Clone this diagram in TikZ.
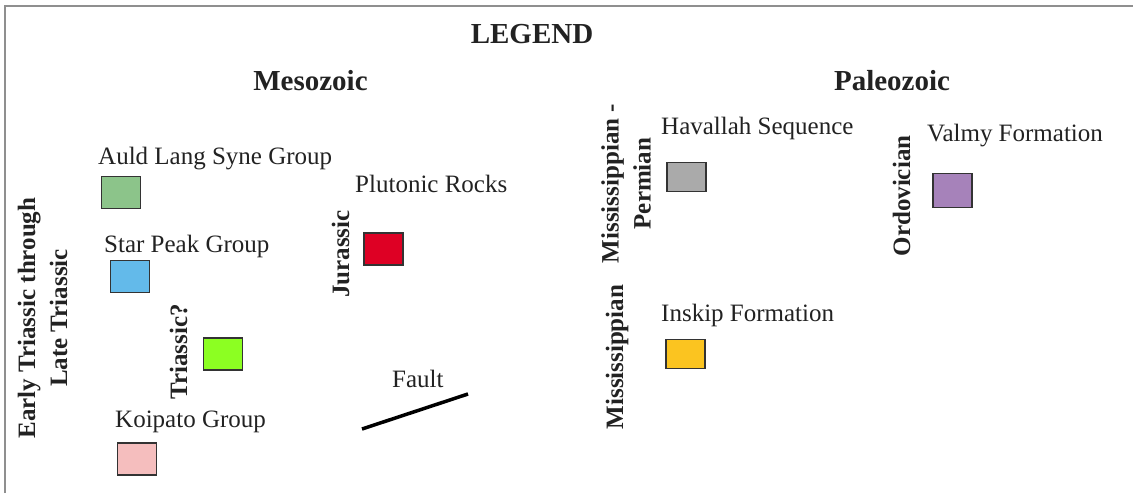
\documentclass[tikz,border=0pt]{standalone}
\usepackage{fontspec}
\setmainfont{Liberation Serif}
\definecolor{txt}{HTML}{222222}
\definecolor{frame}{HTML}{8F8F8F}
\definecolor{cGreen}{HTML}{8CC48A}
\definecolor{cBlue}{HTML}{63BAEA}
\definecolor{cLime}{HTML}{8CFF22}
\definecolor{cPink}{HTML}{F5BEBE}
\definecolor{cRed}{HTML}{DE0024}
\definecolor{cGray}{HTML}{AAAAAA}
\definecolor{cPurple}{HTML}{A682BA}
\definecolor{cYellow}{HTML}{FBC420}
\tikzset{
  unitbox/.style={draw=black!80, line width=1.4pt, minimum width=39pt, minimum height=32pt, inner sep=0pt},
  lbl/.style={font=\fontsize{25}{30}\selectfont, text=txt, anchor=base west, inner sep=0pt},
  head/.style={font=\fontsize{29}{34}\selectfont\bfseries, text=txt, anchor=base, inner sep=0pt},
  agelbl/.style={font=\fontsize{25}{32}\selectfont\bfseries, text=txt, rotate=90, inner sep=0pt, align=center},
}
\begin{document}
\begin{tikzpicture}[x=1pt,y=-1pt]
\useasboundingbox (0,0) rectangle (1133,493);
\coordinate (fb) at (5,493);
\coordinate (fc) at (5,6);
\coordinate (fr) at (1133,6);
\draw[frame, line width=2pt] (fb) -- (fc) -- (fr);

\node[head] (legend) at (532,43) {LEGEND};
\node[head] (meso) at (310.5,90) {Mesozoic};
\node[head] (paleo) at (892,90) {Paleozoic};

% Mesozoic units
\node[lbl] (auldT) at (98,164) {Auld Lang Syne Group};
\node[unitbox, fill=cGreen] (auld) at (121,192.5) {};
\node[lbl] (starT) at (104,252) {Star Peak Group};
\node[unitbox, fill=cBlue] (star) at (130,276.5) {};
\node[unitbox, fill=cLime] (tri) at (223,354) {};
\node[lbl] (koiT) at (115,427) {Koipato Group};
\node[unitbox, fill=cPink] (koi) at (137,459) {};
\node[lbl] (plutT) at (355,192) {Plutonic Rocks};
\node[unitbox, fill=cRed] (plut) at (383.5,249) {};
\node[lbl] (faultT) at (392,387) {Fault};
\coordinate (fa) at (362,429);
\coordinate (fz) at (468,394);
\draw[black, line width=3.5pt] (fa) -- (fz);

\node[agelbl] (earlyA) at (42.5,318) {Early Triassic through\\Late Triassic};
\node[agelbl, anchor=base] (triA) at (187,352) {Triassic?};
\node[agelbl, anchor=base] (jurA) at (349,254) {Jurassic};

% Paleozoic units
\node[lbl] (havT) at (661,134) {Havallah Sequence};
\node[unitbox, fill=cGray, minimum height=29pt] (hav) at (686.5,177) {};
\node[lbl] (valT) at (927,141) {Valmy Formation};
\node[unitbox, fill=cPurple, minimum height=34pt] (val) at (952.5,190.5) {};
\node[lbl] (insT) at (661,321) {Inskip Formation};
\node[unitbox, fill=cYellow, minimum height=29pt] (ins) at (685.5,354) {};

\node[agelbl] (mpA) at (626,183.5) {Mississippian -\\Permian};
\node[agelbl, anchor=base] (ordA) at (910,196) {Ordovician};
\node[agelbl, anchor=base] (misA) at (623,357) {Mississippian};
\end{tikzpicture}
\end{document}
